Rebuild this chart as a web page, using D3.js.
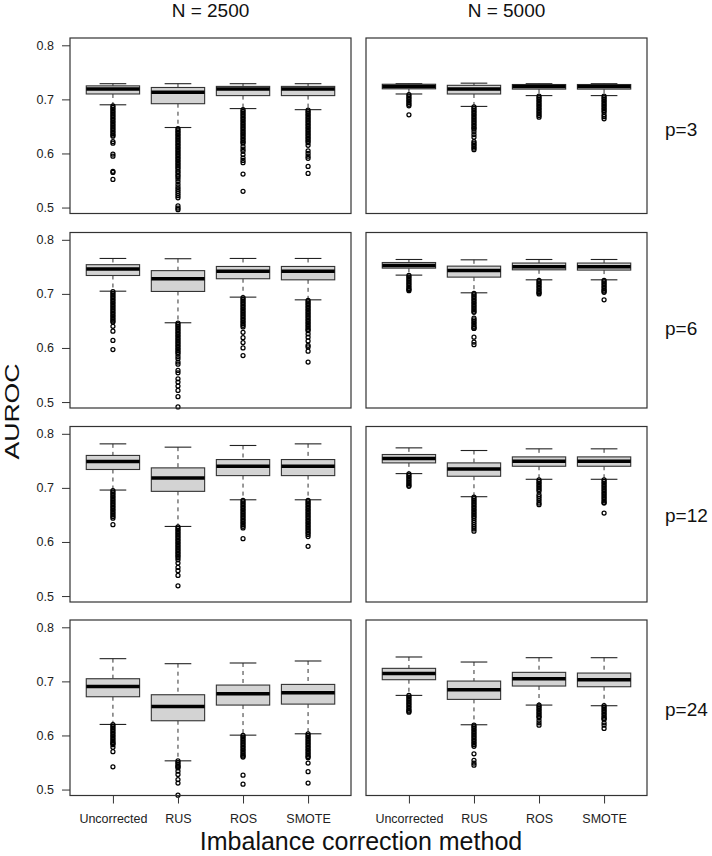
<!DOCTYPE html>
<html>
<head>
<meta charset="utf-8">
<script src="https://cdn.jsdelivr.net/npm/d3@7"></script>
<style>
  html, body { margin: 0; padding: 0; background: #fff; }
  svg { display: block; font-family: "Liberation Sans", Arial, Helvetica, sans-serif; }
</style>
</head>
<body>
<script>
// ---------------- DATA ----------------
const methods = ["Uncorrected", "RUS", "ROS", "SMOTE"];
const sampleSizes = ["N = 2500", "N = 5000"];
const predictorLabels = ["p=3", "p=6", "p=12", "p=24"];
const yTicks = [0.5, 0.6, 0.7, 0.8];

// indexed [p row][N column][method]
const lowerWhisker = [
  [[0.690, 0.648, 0.683, 0.681], [0.710, 0.687, 0.707, 0.707]],
  [[0.705, 0.6466, 0.694, 0.689], [0.7347, 0.702, 0.726, 0.726]],
  [[0.696, 0.6287, 0.678, 0.678], [0.7264, 0.6837, 0.7159, 0.7159]],
  [[0.6204, 0.5531, 0.6006, 0.6031], [0.6741, 0.6198, 0.6562, 0.655]]
];
const lowerQuartile = [
  [[0.710, 0.692, 0.707, 0.707], [0.7195, 0.710, 0.719, 0.719]],
  [[0.734, 0.7045, 0.728, 0.726], [0.7476, 0.731, 0.7445, 0.744]],
  [[0.734, 0.6936, 0.7227, 0.7227], [0.7462, 0.7215, 0.740, 0.740]],
  [[0.6716, 0.6272, 0.6562, 0.658], [0.7031, 0.6667, 0.6914, 0.6901]]
];
const medianAUROC = [
  [[0.719, 0.713, 0.719, 0.719], [0.724, 0.719, 0.724, 0.724]],
  [[0.746, 0.728, 0.742, 0.742], [0.7526, 0.7433, 0.750, 0.750]],
  [[0.749, 0.7184, 0.740, 0.740], [0.7542, 0.7351, 0.7493, 0.7493]],
  [[0.6907, 0.6537, 0.6772, 0.679], [0.7148, 0.6846, 0.7049, 0.7031]]
];
const upperQuartile = [
  [[0.725, 0.722, 0.724, 0.724], [0.728, 0.726, 0.7275, 0.7275]],
  [[0.754, 0.743, 0.7507, 0.7507], [0.758, 0.7513, 0.757, 0.757]],
  [[0.760, 0.737, 0.7524, 0.7524], [0.7617, 0.7462, 0.7573, 0.7573]],
  [[0.7049, 0.6753, 0.6932, 0.6944], [0.7241, 0.7006, 0.7167, 0.7154]]
];
const upperWhisker = [
  [[0.729, 0.729, 0.729, 0.729], [0.729, 0.730, 0.729, 0.729]],
  [[0.7655, 0.765, 0.7655, 0.7655], [0.7636, 0.763, 0.7636, 0.7636]],
  [[0.7814, 0.7753, 0.7784, 0.7814], [0.774, 0.7691, 0.7722, 0.7722]],
  [[0.742, 0.7327, 0.734, 0.7377], [0.7451, 0.7358, 0.7438, 0.7438]]
];

// outliers, [N column][method]
const outliersP3 = [
  [
    [0.688,0.685,0.682,0.679,0.676,0.673,0.670,0.667,0.664,0.661,0.658,0.655,0.652,0.649,0.646,0.643,0.640,0.637,0.634,0.632,0.622,0.619,0.599,0.595,0.567,0.565,0.552],
    [0.646,0.643,0.640,0.637,0.634,0.631,0.628,0.625,0.622,0.619,0.616,0.613,0.610,0.607,0.604,0.601,0.598,0.595,0.592,0.589,0.586,0.583,0.580,0.577,0.574,0.571,0.567,0.564,0.560,0.557,0.553,0.548,0.543,0.538,0.534,0.530,0.526,0.522,0.518,0.503,0.499,0.496],
    [0.681,0.678,0.675,0.672,0.669,0.666,0.663,0.660,0.657,0.654,0.651,0.648,0.645,0.642,0.639,0.636,0.633,0.630,0.627,0.624,0.621,0.619,0.613,0.608,0.604,0.598,0.592,0.587,0.583,0.562,0.530],
    [0.680,0.677,0.674,0.671,0.668,0.665,0.662,0.659,0.656,0.653,0.650,0.647,0.644,0.641,0.638,0.635,0.632,0.629,0.626,0.623,0.620,0.615,0.605,0.600,0.595,0.591,0.576,0.563]
  ],
  [
    [0.709,0.706,0.703,0.700,0.697,0.694,0.691,0.688,0.6715],
    [0.686,0.683,0.680,0.677,0.674,0.671,0.668,0.665,0.662,0.659,0.656,0.653,0.650,0.647,0.645,0.640,0.635,0.630,0.622,0.619,0.616,0.613,0.610,0.607],
    [0.706,0.703,0.700,0.697,0.694,0.691,0.688,0.685,0.682,0.679,0.676,0.673,0.670,0.667],
    [0.706,0.703,0.700,0.697,0.694,0.691,0.688,0.685,0.682,0.679,0.676,0.6715,0.668,0.664]
  ]
];
const outliersP6 = [
  [
    [0.704,0.701,0.698,0.695,0.692,0.689,0.686,0.683,0.680,0.677,0.674,0.671,0.668,0.665,0.662,0.659,0.656,0.653,0.650,0.648,0.640,0.631,0.614,0.597],
    [0.646,0.643,0.640,0.637,0.634,0.631,0.628,0.625,0.622,0.619,0.616,0.613,0.610,0.607,0.604,0.601,0.598,0.595,0.592,0.589,0.584,0.580,0.574,0.570,0.5585,0.554,0.543,0.537,0.5295,0.5215,0.510,0.491],
    [0.693,0.690,0.687,0.684,0.681,0.678,0.675,0.672,0.669,0.666,0.663,0.660,0.657,0.654,0.651,0.648,0.645,0.642,0.639,0.629,0.619,0.610,0.600,0.586],
    [0.688,0.685,0.682,0.679,0.676,0.673,0.670,0.667,0.664,0.661,0.658,0.655,0.652,0.649,0.646,0.643,0.640,0.637,0.634,0.632,0.626,0.620,0.613,0.605,0.602,0.594,0.574]
  ],
  [
    [0.734,0.731,0.728,0.725,0.722,0.719,0.716,0.713,0.710,0.708,0.706],
    [0.701,0.698,0.695,0.692,0.689,0.686,0.683,0.680,0.677,0.674,0.671,0.668,0.666,0.655,0.652,0.649,0.646,0.643,0.640,0.637,0.636,0.620,0.611,0.606],
    [0.725,0.722,0.719,0.716,0.713,0.710,0.707,0.704,0.702,0.700],
    [0.725,0.722,0.719,0.716,0.713,0.710,0.707,0.705,0.703,0.689]
  ]
];
const outliersP12 = [
  [
    [0.695,0.692,0.689,0.686,0.683,0.680,0.677,0.674,0.671,0.668,0.665,0.662,0.659,0.656,0.653,0.650,0.647,0.644,0.632],
    [0.628,0.625,0.622,0.619,0.616,0.613,0.610,0.607,0.604,0.601,0.598,0.595,0.592,0.589,0.586,0.583,0.580,0.577,0.574,0.571,0.567,0.561,0.553,0.547,0.538,0.519],
    [0.677,0.674,0.671,0.668,0.665,0.662,0.659,0.656,0.653,0.650,0.647,0.644,0.641,0.638,0.635,0.632,0.629,0.626,0.606],
    [0.677,0.674,0.671,0.668,0.665,0.662,0.659,0.656,0.653,0.650,0.647,0.644,0.641,0.638,0.635,0.632,0.629,0.626,0.623,0.620,0.617,0.614,0.610,0.592]
  ],
  [
    [0.726,0.723,0.720,0.717,0.714,0.711,0.708,0.705,0.703],
    [0.683,0.680,0.677,0.674,0.671,0.668,0.665,0.662,0.659,0.656,0.653,0.650,0.647,0.644,0.640,0.636,0.632,0.628,0.624,0.620],
    [0.715,0.712,0.709,0.706,0.703,0.700,0.697,0.694,0.6875,0.684,0.680,0.676,0.672,0.669],
    [0.715,0.712,0.709,0.706,0.703,0.700,0.697,0.694,0.691,0.688,0.685,0.682,0.679,0.676,0.673,0.672,0.6534]
  ]
];
const outliersP24 = [
  [
    [0.620,0.617,0.614,0.611,0.608,0.605,0.602,0.599,0.596,0.593,0.590,0.587,0.585,0.583,0.578,0.570,0.542],
    [0.553,0.550,0.547,0.544,0.542,0.540,0.534,0.528,0.5185,0.512,0.4895],
    [0.600,0.597,0.594,0.591,0.588,0.585,0.582,0.579,0.576,0.573,0.570,0.567,0.564,0.562,0.560,0.5265,0.510],
    [0.603,0.600,0.597,0.594,0.591,0.588,0.585,0.582,0.579,0.576,0.573,0.570,0.567,0.564,0.561,0.559,0.549,0.533,0.512]
  ],
  [
    [0.674,0.671,0.668,0.665,0.662,0.659,0.656,0.653,0.650,0.647,0.645,0.643],
    [0.619,0.616,0.613,0.610,0.607,0.604,0.601,0.598,0.595,0.592,0.589,0.586,0.583,0.580,0.566,0.554,0.549,0.545],
    [0.656,0.653,0.650,0.647,0.644,0.641,0.638,0.635,0.633,0.628,0.6235,0.619],
    [0.655,0.652,0.649,0.646,0.643,0.640,0.637,0.634,0.631,0.630,0.6235,0.619,0.613]
  ]
];
const outliers = [outliersP3, outliersP6, outliersP12, outliersP24];

// ---------------- LAYOUT ----------------
const W = 712, H = 856;
const panelLeft = [70, 366];
const panelW = 281;
const panelTop = [38, 232.5, 426.5, 620];
const panelH = 175.5;
const pLabelBaseline = [136, 335, 522, 716];

const svg = d3.select("body").append("svg")
  .attr("width", W).attr("height", H)
  .attr("viewBox", `0 0 ${W} ${H}`);
svg.append("rect").attr("width", W).attr("height", H).attr("fill", "#fff");

const boxHalf = 0.41, capHalf = 0.205;

predictorLabels.forEach((pl, r) => {
  sampleSizes.forEach((ns, c) => {
    const left = panelLeft[c], top = panelTop[r];
    const x = d3.scaleLinear().domain([0.34, 4.66]).range([left, left + panelW]);
    const y = d3.scaleLinear().domain([0.489, 0.8135]).range([top + panelH, top]);
    const g = svg.append("g");

    methods.forEach((m, i) => {
      const pos = i + 1;
      const cx = x(pos);
      const bh = x(pos + boxHalf) - cx;
      const ch = x(pos + capHalf) - cx;
      const lw = lowerWhisker[r][c][i], q1 = lowerQuartile[r][c][i],
            md = medianAUROC[r][c][i], q3 = upperQuartile[r][c][i],
            uw = upperWhisker[r][c][i];
      // whiskers
      g.append("line").attr("x1", cx).attr("x2", cx).attr("y1", y(uw)).attr("y2", y(q3))
        .attr("stroke", "#333").attr("stroke-width", 1).attr("stroke-dasharray", "4,4");
      g.append("line").attr("x1", cx).attr("x2", cx).attr("y1", y(q1)).attr("y2", y(lw))
        .attr("stroke", "#333").attr("stroke-width", 1).attr("stroke-dasharray", "4,4");
      // caps
      [uw, lw].forEach(v => {
        g.append("line").attr("x1", cx - ch).attr("x2", cx + ch).attr("y1", y(v)).attr("y2", y(v))
          .attr("stroke", "#222").attr("stroke-width", 1.1);
      });
      // box
      g.append("rect").attr("x", cx - bh).attr("y", y(q3))
        .attr("width", 2 * bh).attr("height", y(q1) - y(q3))
        .attr("fill", "#d3d3d3").attr("stroke", "#333").attr("stroke-width", 1.1);
      // median
      g.append("line").attr("x1", cx - bh).attr("x2", cx + bh).attr("y1", y(md)).attr("y2", y(md))
        .attr("stroke", "#000").attr("stroke-width", 3.5);
      // outliers
      g.selectAll(null).data(outliers[r][c][i]).enter().append("circle")
        .attr("cx", cx).attr("cy", d => y(d)).attr("r", 2)
        .attr("fill", "none").attr("stroke", "#000").attr("stroke-width", 1.25);
    });

    // panel border
    g.append("rect").attr("x", left).attr("y", top).attr("width", panelW).attr("height", panelH)
      .attr("fill", "none").attr("stroke", "#333").attr("stroke-width", 1.2);

    if (c === 0) {
      const ax = svg.append("g").attr("transform", `translate(${left},0)`)
        .call(d3.axisLeft(y).tickValues(yTicks).tickFormat(d3.format(".1f"))
          .tickSize(8).tickSizeOuter(0).tickPadding(8));
      ax.select(".domain").remove();
      ax.selectAll("line").attr("stroke", "#333");
      ax.selectAll("text").attr("font-size", 12.5).attr("fill", "#222")
        .attr("font-family", "'Liberation Sans', Arial, sans-serif");
    }
    if (r === 3) {
      const ax = svg.append("g").attr("transform", `translate(0,${top + panelH})`)
        .call(d3.axisBottom(x).tickValues([1, 2, 3, 4]).tickFormat(d => methods[d - 1])
          .tickSize(8).tickSizeOuter(0));
      ax.select(".domain").remove();
      ax.selectAll("line").attr("stroke", "#333");
      ax.selectAll("text").attr("font-size", 12.5).attr("fill", "#222")
        .attr("y", 27.5).attr("dy", 0)
        .attr("font-family", "'Liberation Sans', Arial, sans-serif");
    }
    if (r === 0) {
      svg.append("text").attr("x", left + panelW / 2).attr("y", 16.7)
        .attr("text-anchor", "middle").attr("font-size", 19).attr("fill", "#111").text(ns);
    }
  });
  svg.append("text").attr("x", 665).attr("y", pLabelBaseline[r])
    .attr("font-size", 19).attr("fill", "#111").text(pl);
});

svg.append("text").attr("transform", "translate(19,411.5) rotate(-90)")
  .attr("text-anchor", "middle").attr("font-size", 21).attr("fill", "#111")
  .attr("textLength", 96).attr("lengthAdjust", "spacingAndGlyphs").text("AUROC");

svg.append("text").attr("x", 361).attr("y", 850)
  .attr("text-anchor", "middle").attr("font-size", 25).attr("fill", "#111")
  .text("Imbalance correction method");
</script>
</body>
</html>
